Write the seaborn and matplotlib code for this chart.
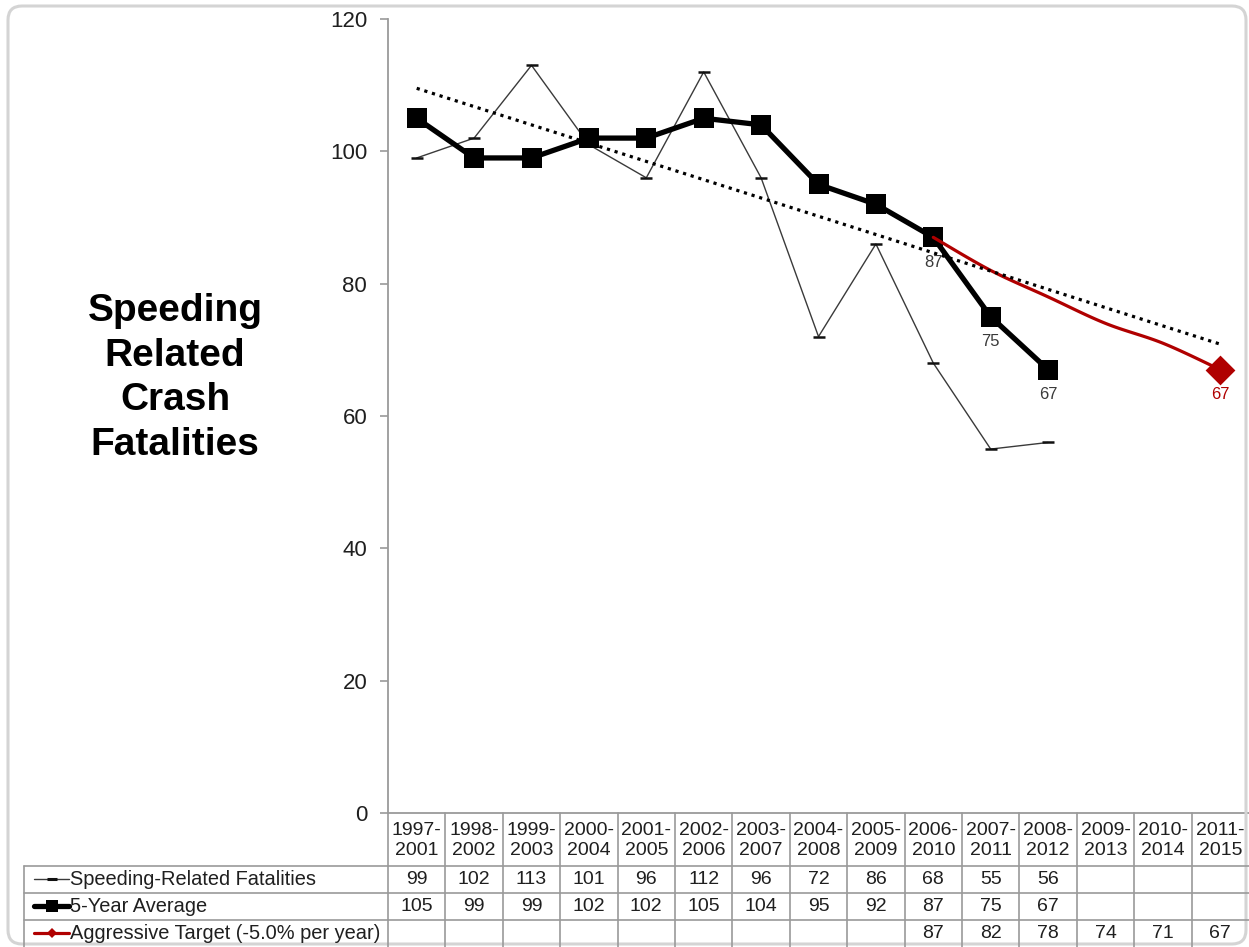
import numpy as np
import pandas as pd
import matplotlib
matplotlib.use("Agg")
import matplotlib.pyplot as plt
import seaborn as sns
from matplotlib.transforms import Affine2D, blended_transform_factory
from matplotlib.lines import Line2D
from matplotlib.patches import FancyBboxPatch

# ---- data ---------------------------------------------------------------
periods = ["1997-\n2001", "1998-\n2002", "1999-\n2003", "2000-\n2004", "2001-\n2005",
           "2002-\n2006", "2003-\n2007", "2004-\n2008", "2005-\n2009", "2006-\n2010",
           "2007-\n2011", "2008-\n2012", "2009-\n2013", "2010-\n2014", "2011-\n2015"]
speeding = [99, 102, 113, 101, 96, 112, 96, 72, 86, 68, 55, 56]
five_year_avg = [105, 99, 99, 102, 102, 105, 104, 95, 92, 87, 75, 67]
target = [87, 82, 78, 74, 71, 67]
target_first_period = "2006-\n2010"
labelled_avg_periods = ["2006-\n2010", "2007-\n2011", "2008-\n2012"]

row_names = ["Speeding-Related Fatalities", "5-Year Average",
             "Aggressive Target (-5.0% per year)"]
y_ticks = [0, 20, 40, 60, 80, 100, 120]
y_title = "Speeding\nRelated\nCrash\nFatalities"

# ---- frames built from the lists ---------------------------------------
pos = {p: i for i, p in enumerate(periods)}
t0 = pos[target_first_period]
df_speed = pd.DataFrame({"x": np.arange(len(speeding)), "y": speeding})
df_avg = pd.DataFrame({"x": np.arange(len(five_year_avg)), "y": five_year_avg})
df_target = pd.DataFrame({"x": np.arange(t0, t0 + len(target)), "y": target})

# linear trend of the 5-year average, extended over all periods
coef = np.polyfit(df_avg["x"], df_avg["y"], 1)
trend_x = np.arange(len(periods))
df_trend = pd.DataFrame({"x": trend_x, "y": np.polyval(coef, trend_x)})


def smooth_curve(xs, ys, n=24):
    """Catmull-Rom curve through the points (spreadsheet-style smoothed line)."""
    p = np.column_stack([xs, ys]).astype(float)
    p = np.vstack([p[0], p, p[-1]])
    parts = []
    t = np.linspace(0, 1, n, endpoint=False)[:, None]
    for i in range(1, len(p) - 2):
        p0, p1, p2, p3 = p[i - 1], p[i], p[i + 1], p[i + 2]
        seg = 0.5 * (2 * p1 + (-p0 + p2) * t + (2 * p0 - 5 * p1 + 4 * p2 - p3) * t ** 2
                     + (-p0 + 3 * p1 - 3 * p2 + p3) * t ** 3)
        parts.append(seg)
    parts.append(p[-2][None, :])
    c = np.vstack(parts)
    return pd.DataFrame({"x": c[:, 0], "y": c[:, 1]})


df_target_curve = smooth_curve(df_target["x"], df_target["y"])

# ---- styling -------------------------------------------------------------
sns.set_theme(style="white")
plt.rcParams["font.family"] = ["Liberation Sans", "DejaVu Sans"]

RED = "#B00000"
GRID = "#9a9a9a"
TEXT = "#1f1f1f"

W, H = 1249, 947
fig = plt.figure(figsize=(W / 100, H / 100), dpi=100)
ax = fig.add_axes([388 / W, 1 - 813 / H, (W - 388) / W, (813 - 19) / H])

# pixel coordinates (origin top-left) for layout elements
px = Affine2D().scale(1 / W, -1 / H).translate(0, 1) + fig.transFigure
col_px = blended_transform_factory(ax.transData, px)

# ---- series --------------------------------------------------------------
sns.lineplot(data=df_speed, x="x", y="y", ax=ax, color="#3a3a3a", lw=1.0,
             marker="_", markersize=8, markeredgewidth=1.8, markeredgecolor="#111111",
             zorder=2)
sns.lineplot(data=df_avg, x="x", y="y", ax=ax, color="black", lw=3.8,
             marker="s", markersize=14.5, markeredgewidth=0, zorder=3)
sns.lineplot(data=df_target_curve, x="x", y="y", ax=ax, sort=False, color=RED,
             lw=2.3, zorder=4)
sns.scatterplot(data=df_target.tail(1), x="x", y="y", ax=ax, marker="D", s=230,
                color=RED, linewidth=0, zorder=5)
sns.lineplot(data=df_trend, x="x", y="y", ax=ax, color="black", lw=2.3,
             linestyle=(0, (1, 1.5)), zorder=6)

# value labels
for p in labelled_avg_periods:
    i = pos[p]
    ax.annotate(str(five_year_avg[i]), (i, five_year_avg[i]), xytext=(0, -18),
                textcoords="offset points", ha="center", va="center",
                fontsize=12, color="#3a3a3a", zorder=7)
ax.annotate(str(target[-1]), (df_target["x"].iloc[-1], target[-1]), xytext=(0, -18),
            textcoords="offset points", ha="center", va="center",
            fontsize=12, color=RED, zorder=7)

# ---- axes ----------------------------------------------------------------
ax.set_xlim(-0.5, len(periods) - 0.5)
ax.set_ylim(0, 120)
ax.set_yticks(y_ticks)
ax.set_yticklabels([str(v) for v in y_ticks], fontsize=16, color=TEXT)
ax.set_xticks([])
ax.set_xlabel("")
ax.set_ylabel("")
ax.tick_params(axis="y", left=True, length=6, width=1.2, color=GRID, pad=9)
for s in ["top", "right"]:
    ax.spines[s].set_visible(False)
for s in ["left", "bottom"]:
    ax.spines[s].set_color(GRID)
    ax.spines[s].set_linewidth(1.3)

fig.text(175 / W, 1 - 378 / H, y_title, ha="center", va="center", fontsize=28,
         fontweight="bold", color="black", linespacing=1.32)

# ---- data table beneath the plot -----------------------------------------
row_y = [866, 893, 920, 947]
header_y = (813 + 866) / 2 + 1
for k in range(len(periods)):
    xb = k - 0.5
    fig.add_artist(Line2D([xb, xb], [813, 947], transform=col_px, color=GRID, lw=1.2))
for y in row_y[:3]:
    fig.add_artist(Line2D([24, 388], [y, y], transform=px, color=GRID, lw=1.2))
    fig.add_artist(Line2D([-0.5, len(periods) - 0.5], [y, y], transform=col_px,
                          color=GRID, lw=1.2))
fig.add_artist(Line2D([24, 24], [866, 947], transform=px, color=GRID, lw=1.2))

for i, p in enumerate(periods):
    fig.text(i, header_y, p, transform=col_px, ha="center", va="center",
             fontsize=14, color=TEXT, linespacing=1.3)

table_rows = [speeding, five_year_avg, [None] * t0 + target]
for r, vals in enumerate(table_rows):
    yc = (row_y[r] + row_y[r + 1]) / 2
    for i, v in enumerate(vals):
        if v is not None:
            fig.text(i, yc, str(v), transform=col_px, ha="center", va="center",
                     fontsize=14, color=TEXT)
    fig.text(70, yc, row_names[r], transform=px, ha="left", va="center",
             fontsize=14.4, color=TEXT)

# legend keys inside the row-label cells
keys = [
    dict(color="#3a3a3a", lw=1.0, marker="_", markersize=7, markeredgewidth=2.2,
         markeredgecolor="#111111"),
    dict(color="black", lw=3.8, marker="s", markersize=9, markeredgewidth=0),
    dict(color=RED, lw=2.3, marker="D", markersize=5.5, markeredgewidth=0),
]
for r, kw in enumerate(keys):
    yc = (row_y[r] + row_y[r + 1]) / 2
    fig.add_artist(Line2D([34, 69], [yc, yc], transform=px, **kw, markevery=[]))
    fig.add_artist(Line2D([52], [yc], transform=px, linestyle="none",
                          **{k: v for k, v in kw.items() if k not in ("lw",)}))

# rounded outer frame
fig.add_artist(FancyBboxPatch((8, 6), 1238, 938, boxstyle="round,pad=0,rounding_size=14",
                              transform=px, facecolor="none", edgecolor="#d4d4d4",
                              lw=2.2))

fig.savefig("out.png", dpi=100)
